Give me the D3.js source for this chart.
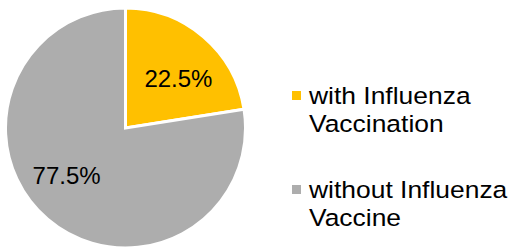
<!DOCTYPE html>
<html>
<head>
<meta charset="utf-8">
<script src="https://cdn.jsdelivr.net/npm/d3@7"></script>
<style>
  html, body { margin: 0; padding: 0; background: #fff; }
  svg { display: block; }
  text { font-family: Arial, "Liberation Sans", sans-serif; fill: #000; }
</style>
</head>
<body>
<svg id="chart" width="512" height="248"></svg>
<script>
const categories = ["with Influenza Vaccination", "without Influenza Vaccine"];
const legendLines = [["with Influenza", "Vaccination"], ["without Influenza", "Vaccine"]];
const values = [22.5, 77.5];
const labels = ["22.5%", "77.5%"];
const colors = ["#FFC000", "#ADADAD"];

const svg = d3.select("#chart");
const cx = 125.5, cy = 128, r = 120;

const pie = d3.pie().sort(null).value(d => d)(values);
const arc = d3.arc().innerRadius(0).outerRadius(r);

const g = svg.append("g").attr("transform", `translate(${cx},${cy})`);
g.selectAll("path").data(pie).enter().append("path")
  .attr("d", arc)
  .attr("fill", (d, i) => colors[i])
  .attr("stroke", "#fff")
  .attr("stroke-width", 3)
  .attr("stroke-linejoin", "miter");

const labelArc = d3.arc().innerRadius(74).outerRadius(74);
const shift = 0.15;
g.selectAll("text.lbl").data(pie).enter().append("text")
  .attr("class", "lbl")
  .attr("transform", d => {
    const c = labelArc.centroid({startAngle: d.startAngle + shift, endAngle: d.endAngle + shift});
    return `translate(${c[0] - 3},${c[1] - 0.5})`;
  })
  .attr("text-anchor", "middle")
  .attr("dy", "0.35em")
  .style("font-size", "24px")
  .text((d, i) => labels[i]);

const legendY = [95, 189];
const leg = svg.append("g");
categories.forEach((c, i) => {
  leg.append("rect")
    .attr("x", 292).attr("y", legendY[i] - 4)
    .attr("width", 9).attr("height", 9)
    .attr("fill", colors[i]);
  const t = leg.append("text")
    .attr("transform", `translate(309,${legendY[i] + 8.5}) scale(1.125,1)`)
    .style("font-size", "23.5px");
  legendLines[i].forEach((line, j) => {
    t.append("tspan").attr("x", 0).attr("y", j * 29).text(line);
  });
});
</script>
</body>
</html>
